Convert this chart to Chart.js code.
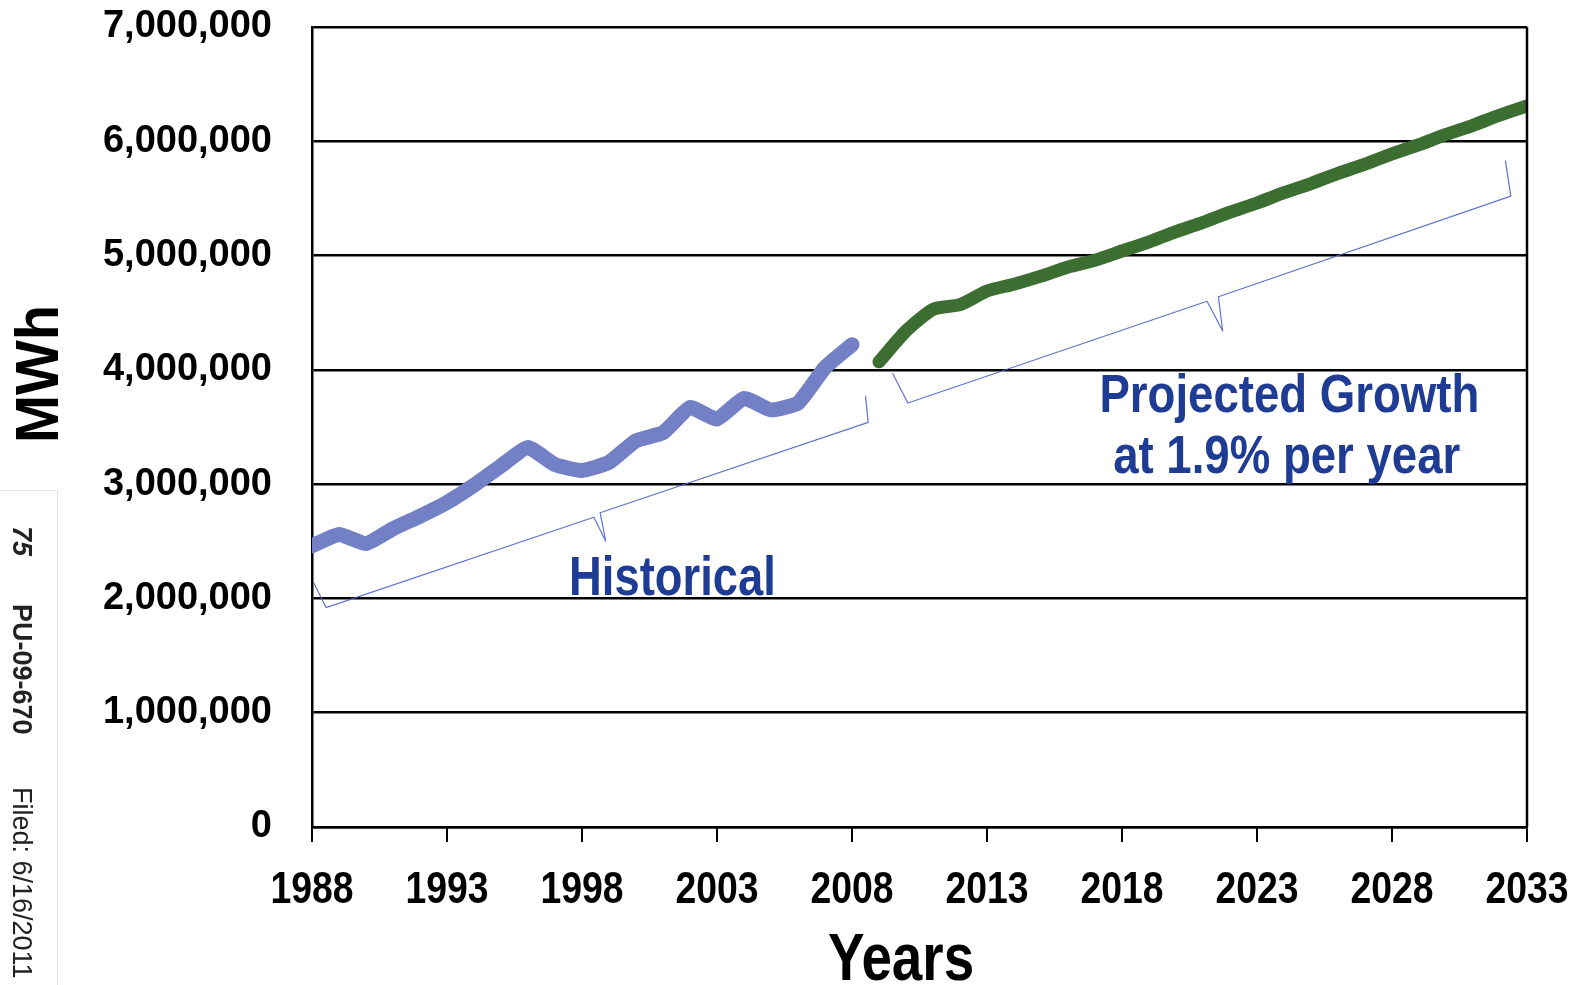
<!DOCTYPE html>
<html>
<head>
<meta charset="utf-8">
<script src="https://cdn.jsdelivr.net/npm/chart.js@4/dist/chart.umd.min.js"></script>
<style>
  html, body { margin: 0; padding: 0; background: #fff; }
  #wrap { width: 1577px; height: 985px; }
</style>
</head>
<body>
<div id="wrap"><canvas id="mwh" width="1577" height="985"></canvas></div>
<script>
// historical sales, MWh
const histYears = [1988, 1989, 1990, 1991, 1992, 1993, 1994, 1995, 1996, 1997, 1998,
  1999, 2000, 2001, 2002, 2003, 2004, 2005, 2006, 2007, 2008]
const histMWh = [2460000, 2560000, 2480000, 2610000, 2720000, 2840000, 2990000, 3160000,
  3320000, 3170000, 3120000, 3190000, 3380000, 3450000, 3670000, 3570000, 3750000,
  3650000, 3710000, 4020000, 4220000]

// forecast
const projYears = [2009, 2010, 2011, 2012, 2013, 2014, 2015, 2016, 2017, 2018, 2019,
  2020, 2021, 2022, 2023, 2024, 2025, 2026, 2027, 2028, 2029, 2030, 2031, 2032, 2033]
const projMWh = [4070000, 4340000, 4530000, 4570000, 4690000, 4750000, 4820000, 4900000,
  4960000, 5040000, 5120000, 5210000, 5290000, 5380000, 5460000, 5550000, 5630000,
  5720000, 5800000, 5890000, 5970000, 6060000, 6140000, 6230000, 6310000]

const xTickYears = [1988, 1993, 1998, 2003, 2008, 2013, 2018, 2023, 2028, 2033]
const yTickValues = [0, 1000000, 2000000, 3000000, 4000000, 5000000, 6000000, 7000000]

// no narrow face installed, so narrow bold text is squeezed Liberation Sans
const SANS = '"Liberation Sans", Arial, sans-serif'
const LABEL_BLUE = '#1f3c94'

// brace outlines under each segment, in (year, MWh)
const braces = [
  [[1988.06, 2140000], [1988.52, 1920000], [1998.44, 2710000], [1998.88, 2500000],
   [1998.67, 2750000], [2008.6, 3540000], [2008.5, 3770000]],
  [[2009.5, 3970000], [2010.07, 3710000], [2021.15, 4600000], [2021.73, 4340000],
   [2021.57, 4640000], [2032.4, 5520000], [2032.2, 5830000]]
]

// label baselines, in (year, MWh)
const notes = [
  { text: 'Historical', x: 2001.35, y: 2030000, size: 56, squeeze: 0.81 },
  { text: 'Projected Growth', x: 2024.2, y: 3630000, size: 53, squeeze: 0.86 },
  { text: 'at 1.9% per year', x: 2024.1, y: 3100000, size: 53, squeeze: 0.86 }
]

const toPoints = (xs, ys) => xs.map((x, i) => ({ x: x, y: ys[i] }))

function squeezed(ctx, text, x, y, size, sx, rot) {
  ctx.save()
  ctx.translate(x, y)
  if (rot) ctx.rotate(rot)
  ctx.scale(sx, 1)
  ctx.font = 'bold ' + size + 'px ' + SANS
  ctx.fillText(text, 0, 0)
  ctx.restore()
}

const decorations = {
  id: 'decorations',
  afterDatasetsDraw(chart) {
    const { ctx, chartArea: a, scales } = chart
    const sx = scales.x, sy = scales.y
    ctx.save()

    ctx.strokeStyle = '#000'
    ctx.lineWidth = 2.5
    ctx.beginPath()
    ctx.moveTo(a.right, a.top)
    ctx.lineTo(a.right, a.bottom)
    ctx.stroke()

    ctx.strokeStyle = 'rgba(80,100,200,0.9)'
    ctx.lineWidth = 1.2
    ctx.lineJoin = 'round'
    braces.forEach(b => {
      ctx.beginPath()
      b.forEach((p, i) => {
        const px = sx.getPixelForValue(p[0]), py = sy.getPixelForValue(p[1])
        if (i === 0) ctx.moveTo(px, py); else ctx.lineTo(px, py)
      })
      ctx.stroke()
    })

    ctx.fillStyle = LABEL_BLUE
    ctx.textAlign = 'center'
    ctx.textBaseline = 'alphabetic'
    notes.forEach(n => {
      squeezed(ctx, n.text, sx.getPixelForValue(n.x), sy.getPixelForValue(n.y), n.size, n.squeeze)
    })
    ctx.restore()
  },
  afterDraw(chart) {
    const { ctx, chartArea: a, scales } = chart
    ctx.save()
    ctx.fillStyle = '#000'
    ctx.textAlign = 'center'
    ctx.textBaseline = 'alphabetic'

    // year labels under the tick marks
    scales.x.ticks.forEach(t => {
      squeezed(ctx, String(t.value), scales.x.getPixelForValue(t.value), a.bottom + 76, 45, 0.83)
    })

    squeezed(ctx, 'Years', 901, 980, 66, 0.83)
    squeezed(ctx, 'MWh', 58, 374, 61, 0.95, -Math.PI / 2)
    ctx.restore()

    // side stamp
    ctx.save()
    ctx.strokeStyle = '#e4e4e4'
    ctx.lineWidth = 1
    ctx.beginPath()
    ctx.moveTo(0, 490.5)
    ctx.lineTo(57.5, 490.5)
    ctx.lineTo(57.5, 985)
    ctx.stroke()
    ctx.fillStyle = '#222'
    ctx.textBaseline = 'middle'
    ctx.textAlign = 'left'
    const stamp = [
      { t: '75', y: 526, f: 'italic bold 27px ' + SANS },
      { t: 'PU-09-670', y: 604, f: 'bold 27px ' + SANS },
      { t: 'Filed: 6/16/2011', y: 787, f: '27px ' + SANS }
    ]
    stamp.forEach(s => {
      ctx.save()
      ctx.translate(20, s.y)
      ctx.rotate(Math.PI / 2)
      ctx.font = s.f
      ctx.fillText(s.t, 0, 0)
      ctx.restore()
    })
    ctx.restore()
  }
}

new Chart(document.getElementById('mwh').getContext('2d'), {
  type: 'line',
  data: {
    datasets: [{
      label: 'Historical',
      data: toPoints(histYears, histMWh),
      borderColor: '#7480c6',
      borderWidth: 15,
      borderCapStyle: 'round',
      borderJoinStyle: 'round',
      pointRadius: 0,
      tension: 0.15
    }, {
      label: 'Projected',
      data: toPoints(projYears, projMWh),
      borderColor: '#3b6e30',
      borderWidth: 13,
      borderCapStyle: 'round',
      borderJoinStyle: 'round',
      pointRadius: 0,
      tension: 0.2
    }]
  },
  options: {
    responsive: false,
    animation: false,
    layout: { padding: { top: 27, right: 50, left: 0, bottom: 0 } },
    plugins: {
      legend: { display: false },
      tooltip: { enabled: false }
    },
    scales: {
      x: {
        type: 'linear',
        min: 1988,
        max: 2033,
        afterBuildTicks: axis => { axis.ticks = xTickYears.map(v => ({ value: v })) },
        afterFit: axis => { axis.height = 158 },
        grid: { drawOnChartArea: false, drawTicks: true, tickLength: 15, color: '#000', lineWidth: 2 },
        border: { display: true, color: '#000', width: 2.5 },
        ticks: { display: false }
      },
      y: {
        min: 0,
        max: 7000000,
        afterBuildTicks: axis => { axis.ticks = yTickValues.map(v => ({ value: v })) },
        afterFit: axis => { axis.width = 312 },
        grid: { color: '#000', lineWidth: 2.5, drawTicks: true, tickLength: 40, tickColor: 'rgba(0,0,0,0)' },
        border: { display: true, color: '#000', width: 2.5 },
        ticks: {
          padding: 0,
          color: '#000',
          font: { family: SANS, size: 38, weight: 'bold' },
          callback: v => v.toLocaleString('en-US')
        }
      }
    }
  },
  plugins: [decorations]
})
</script>
</body>
</html>
